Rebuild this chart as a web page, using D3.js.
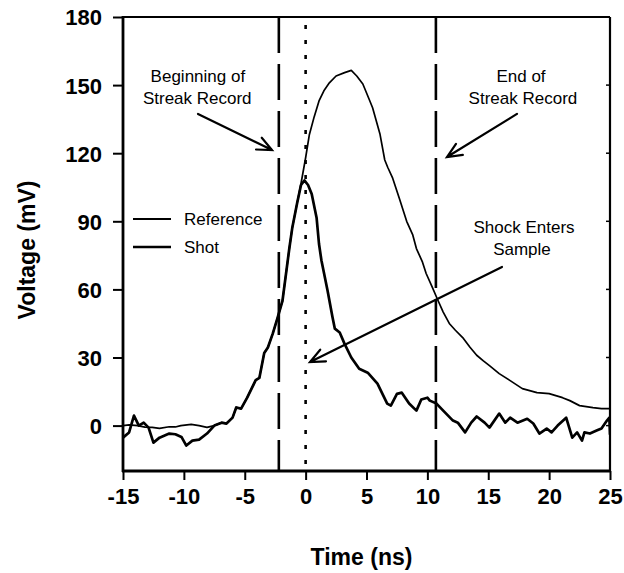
<!DOCTYPE html>
<html>
<head>
<meta charset="utf-8">
<script src="https://cdn.jsdelivr.net/npm/d3@7"></script>
<style>
  html, body { margin: 0; padding: 0; background: #fff; }
  svg { display: block; }
  text { font-family: "Liberation Sans", Arial, Helvetica, sans-serif; fill: #000; }
</style>
</head>
<body>
<svg id="chart" width="624" height="573"></svg>
<script>
// ---------------- data ----------------
const xTicks = [-15, -10, -5, 0, 5, 10, 15, 20, 25];
const yTicks = [0, 30, 60, 90, 120, 150, 180];

// Reference trace (thin line): [time ns, voltage mV]
const referenceT = [-15, -14.5, -13.8, -13.2, -12.6, -12, -11.2, -10.7, -10.25, -9.4, -8.75, -8.1, -7.5,
  -6.9, -6.5, -6.0, -5.7, -5.3, -4.8, -4.4, -4.1, -3.8, -3.4, -3.1, -2.7, -2.3, -1.9, -1.34, -1.1, -0.7, -0.4,
  0, 0.3, 0.7, 1.1, 1.5, 1.95, 2.5, 3.2, 3.75, 4.2, 4.7, 5.2, 5.5, 6.1, 6.5, 6.75, 7.15, 7.7, 8.3, 8.8, 9.1,
  9.6, 9.9, 10.4, 10.8, 11.3, 11.8, 12.3, 12.9, 13.5, 14.05, 14.6, 15.1, 15.9, 16.8, 17.8, 19, 20, 21.1, 21.7,
  22.5, 23.6, 24.3, 25];
const referenceV = [0, 0.3, 0, -0.7, -0.8, -1.2, -0.5, -0.6, 0, 0.5, 0, -0.8, 0,
  1.3, 0.9, 3.5, 8, 7.5, 12.3, 16.7, 20, 21, 32, 34.4, 40.5, 47.6, 55, 78, 87, 98, 106,
  118, 128, 136, 143, 147.5, 151, 154, 155.5, 156.5, 154, 150.5, 144, 140, 128.6, 117, 113.7, 109, 100, 90, 84, 78,
  72, 67, 61, 56, 50, 45, 42, 38.8, 34.5, 31, 28.5, 26.4, 22.9, 19.8, 16.3, 14.5, 14.1, 12.3, 11,
  8.8, 7.9, 7.5, 7.5];

// Shot trace (thick line): [time ns, voltage mV]
const shotT = [-15, -14.5, -14.1, -13.7, -13.3, -12.9, -12.5, -12.0, -11.2, -10.7, -10.2, -9.8, -9.3, -8.75, -8.1, -7.5,
  -6.9, -6.5, -6.0, -5.7, -5.3, -4.8, -4.4, -4.1, -3.8, -3.4, -3.1, -2.7, -2.3, -1.9, -1.34, -1.1, -0.7, -0.38,
  -0.1, 0.2, 0.5, 0.9, 1.1, 1.3, 1.8, 2.2, 2.4, 2.8, 3.2, 3.75, 4.4, 5.1, 5.9, 6.4, 6.7, 7.0, 7.5, 7.9, 8.5, 9.1,
  9.5, 10.0, 10.2, 10.75, 11.3, 12.1, 12.5, 13.1, 13.6, 14.05, 14.7, 15.1, 15.9, 16.4, 16.8, 17.4, 18.2, 18.7,
  19.2, 19.8, 20.2, 20.7, 21.4, 21.9, 22.3, 22.7, 22.9, 23.35, 23.9, 24.3, 24.75, 24.95, 25];
const shotV = [-5.3, -3, 4.4, 0, 1.3, -0.9, -7.5, -5.3, -3.5, -3.8, -5, -8.8, -6.6, -6.2, -3.5, 0,
  1.3, 0.9, 3.5, 8, 7.5, 12.3, 16.7, 20, 21, 32, 34.4, 40.5, 47.6, 55, 78, 87, 98, 106,
  108, 106, 102, 91.6, 80, 72.7, 59.5, 48, 42.7, 41, 36, 30, 25, 23.3, 18.5, 13, 9.7, 8.8, 14, 14.5, 9.7, 6.6,
  11.5, 12.3, 11, 9.7, 6.6, 2.2, 1.3, -3, 1.3, 4, 1.3, -0.9, 5.3, 1.3, 3.5, 1.3, 3, 0.9,
  -3.5, -1.3, -3, 0, 3.5, -5.3, -3, -6.6, -3, -3.5, -2.2, -1.3, 2.2, 3.5, -4];

// Marker lines (time, ns)
const streakBegin = -2.2;
const shockTime = 0;
const streakEnd = 10.7;

// Annotation texts and arrows (data coordinates)
const labelLines = [
  { text: "Beginning of", t: -8.85, v: 151.4 },
  { text: "Streak Record", t: -8.9, v: 141.7 },
  { text: "End of", t: 17.69, v: 151.4 },
  { text: "Streak Record", t: 17.85, v: 141.7 },
  { text: "Shock Enters", t: 17.94, v: 84.8 },
  { text: "Sample", t: 17.77, v: 75.2 }
];
const arrows = [
  { t0: -8.84, v0: 137.3, t1: -2.76, v1: 121.4 },
  { t0: 17.36, v0: 137.3, t1: 11.61, v1: 118.3 },
  { t0: 16.13, v0: 69.9, t1: 0.36, v1: 28.0 }
];
const seriesNames = ["Reference", "Shot"];

// ---------------- drawing ----------------
const svg = d3.select("#chart");
svg.append("rect").attr("width", 624).attr("height", 573).attr("fill", "#fff");

const x = d3.scaleLinear().domain([-15, 25]).range([123, 610]);
const y = d3.scaleLinear().domain([-20, 180]).range([471, 17]);

const fontF = '"Liberation Sans", Arial, Helvetica, sans-serif';

// clip
svg.append("clipPath").attr("id", "plotclip").append("rect")
  .attr("x", x(-15)).attr("y", y(180)).attr("width", x(25) - x(-15)).attr("height", y(-20) - y(180));

// vertical marker lines
const g = svg.append("g");
g.append("line").attr("x1", x(streakBegin)).attr("x2", x(streakBegin))
  .attr("y1", y(180)).attr("y2", y(-20))
  .attr("stroke", "#000").attr("stroke-width", 2.6).attr("stroke-dasharray", "36,11");
g.append("line").attr("x1", x(streakEnd)).attr("x2", x(streakEnd))
  .attr("y1", y(180)).attr("y2", y(-20))
  .attr("stroke", "#000").attr("stroke-width", 2.6).attr("stroke-dasharray", "36,11");
g.append("line").attr("x1", x(shockTime)).attr("x2", x(shockTime))
  .attr("y1", y(180) + 8).attr("y2", y(-20))
  .attr("stroke", "#000").attr("stroke-width", 2.6).attr("stroke-dasharray", "4,11");

// curves
const line = d3.line().x(d => x(d[0])).y(d => y(d[1]));
const refData = referenceT.map((t, i) => [t, referenceV[i]]);
const shotData = shotT.map((t, i) => [t, shotV[i]]);
const curves = svg.append("g").attr("clip-path", "url(#plotclip)");
curves.append("path").datum(refData).attr("d", line)
  .attr("fill", "none").attr("stroke", "#000").attr("stroke-width", 1.7).attr("stroke-linejoin", "round");
curves.append("path").datum(shotData).attr("d", line)
  .attr("fill", "none").attr("stroke", "#000").attr("stroke-width", 2.7).attr("stroke-linejoin", "round");

// axes
const xAxis = d3.axisBottom(x).tickValues(xTicks).tickSize(9).tickPadding(8).tickFormat(d => String(d));
const yAxis = d3.axisLeft(y).tickValues(yTicks).tickSize(10).tickPadding(11).tickFormat(d => String(d));

const gx = svg.append("g").attr("transform", `translate(0,${y(-20)})`).call(xAxis);
const gy = svg.append("g").attr("transform", `translate(${x(-15)},0)`).call(yAxis);
[gx, gy].forEach(a => {
  a.select(".domain").remove();
  a.selectAll(".tick line").attr("stroke", "#000").attr("stroke-width", 2);
  a.selectAll(".tick text").attr("font-family", fontF).attr("font-size", 22)
    .attr("font-weight", "bold").attr("fill", "#000");
});
gx.selectAll(".tick text").attr("dy", "0.71em");
gy.selectAll(".tick text").attr("dy", "0.36em");

// right-side small inward ticks
svg.append("g").selectAll("line").data(yTicks).join("line")
  .attr("x1", x(25) - 4).attr("x2", x(25))
  .attr("y1", d => y(d)).attr("y2", d => y(d))
  .attr("stroke", "#000").attr("stroke-width", 1.5);

// frame
svg.append("line").attr("x1", x(-15)).attr("x2", x(25)).attr("y1", y(180)).attr("y2", y(180))
  .attr("stroke", "#000").attr("stroke-width", 2.2);
svg.append("line").attr("x1", x(25)).attr("x2", x(25)).attr("y1", y(180)).attr("y2", y(-20))
  .attr("stroke", "#000").attr("stroke-width", 2.2);
svg.append("line").attr("x1", x(-15)).attr("x2", x(-15)).attr("y1", y(180) - 1).attr("y2", y(-20) + 1)
  .attr("stroke", "#000").attr("stroke-width", 2.8);
svg.append("line").attr("x1", x(-15) - 1).attr("x2", x(25) + 1).attr("y1", y(-20)).attr("y2", y(-20))
  .attr("stroke", "#000").attr("stroke-width", 2.8);

// axis titles
svg.append("text").attr("x", (x(-15) + x(25)) / 2 - 5).attr("y", 565)
  .attr("text-anchor", "middle").attr("font-size", 23).attr("font-weight", "bold")
  .text("Time (ns)");
svg.append("text").attr("transform", `translate(35,${(y(-20) + y(180)) / 2 + 6}) rotate(-90)`)
  .attr("text-anchor", "middle").attr("font-size", 23).attr("font-weight", "bold")
  .text("Voltage (mV)");

// annotations
svg.append("g").selectAll("text").data(labelLines).join("text")
  .attr("x", d => x(d.t)).attr("y", d => y(d.v))
  .attr("text-anchor", "middle").attr("font-size", 17)
  .text(d => d.text);

const arrowG = svg.append("g").attr("stroke", "#000").attr("stroke-width", 2.2)
  .attr("fill", "none").attr("stroke-linecap", "round");
arrows.forEach(a => {
  const x0 = x(a.t0), y0 = y(a.v0), x1 = x(a.t1), y1 = y(a.v1);
  const ang = Math.atan2(y0 - y1, x0 - x1);
  const L = 16, w = 0.42;
  const p = d3.path();
  p.moveTo(x0, y0); p.lineTo(x1, y1);
  p.moveTo(x1 + L * Math.cos(ang + w), y1 + L * Math.sin(ang + w));
  p.lineTo(x1, y1);
  p.lineTo(x1 + L * Math.cos(ang - w), y1 + L * Math.sin(ang - w));
  arrowG.append("path").attr("d", p.toString());
});

// legend
const legend = svg.append("g");
seriesNames.forEach((name, i) => {
  const ly = 219 + i * 28;
  legend.append("line").attr("x1", 133).attr("x2", 171).attr("y1", ly).attr("y2", ly)
    .attr("stroke", "#000").attr("stroke-width", i === 0 ? 1.8 : 2.6);
  legend.append("text").attr("x", 184).attr("y", ly + 6).attr("font-size", 17).text(name);
});
</script>
</body>
</html>
